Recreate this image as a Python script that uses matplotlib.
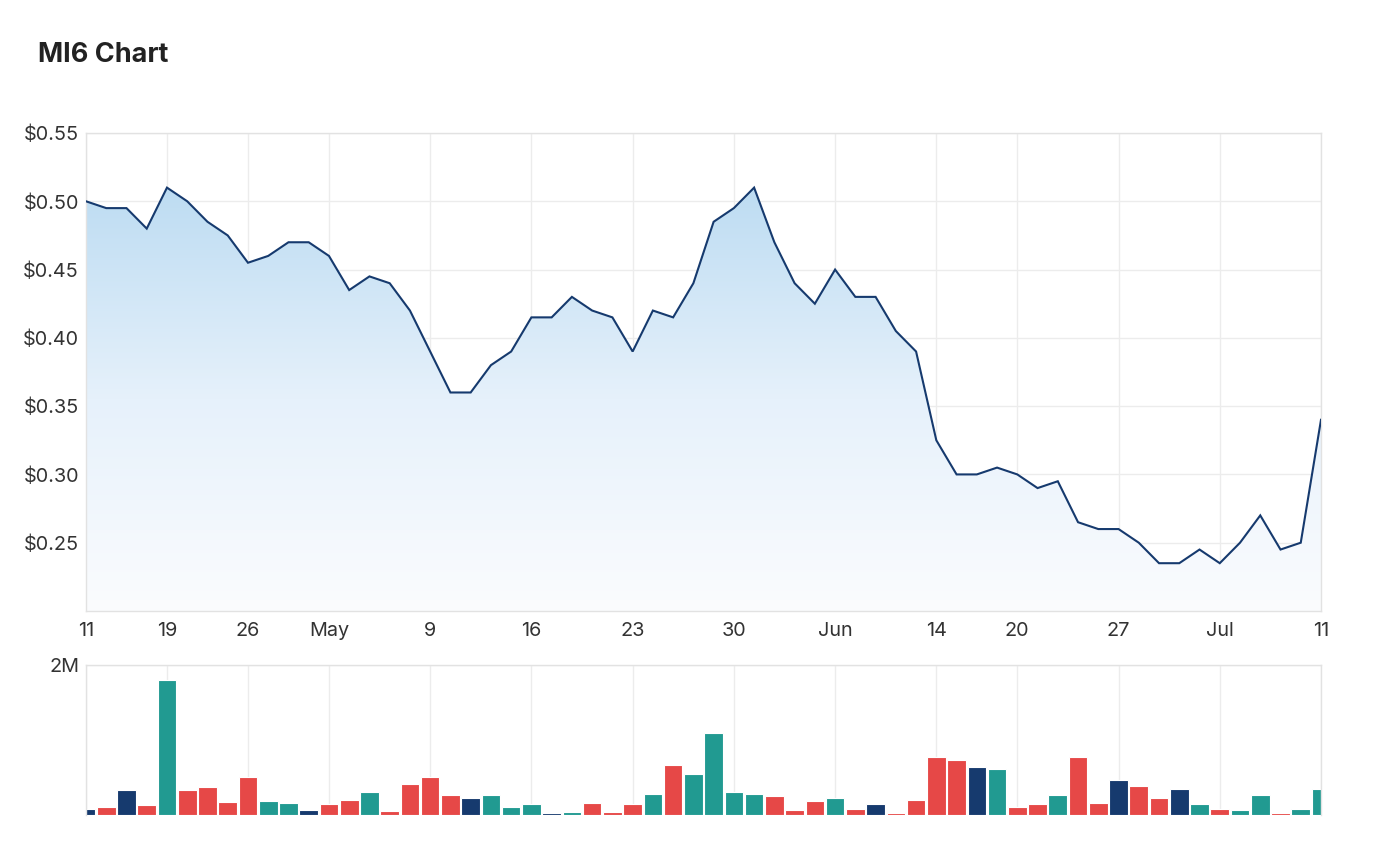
import numpy as np
import matplotlib
matplotlib.use("Agg")
import matplotlib.pyplot as plt
from matplotlib.colors import LinearSegmentedColormap
from matplotlib.patches import Polygon

# ---- data (ASX trading days, 11 Apr - 11 Jul) ----
dates = ["2022-04-11", "2022-04-12", "2022-04-13", "2022-04-14", "2022-04-19", "2022-04-20",
         "2022-04-21", "2022-04-22", "2022-04-26", "2022-04-27", "2022-04-28", "2022-04-29",
         "2022-05-02", "2022-05-03", "2022-05-04", "2022-05-05", "2022-05-06", "2022-05-09",
         "2022-05-10", "2022-05-11", "2022-05-12", "2022-05-13", "2022-05-16", "2022-05-17",
         "2022-05-18", "2022-05-19", "2022-05-20", "2022-05-23", "2022-05-24", "2022-05-25",
         "2022-05-26", "2022-05-27", "2022-05-30", "2022-05-31", "2022-06-01", "2022-06-02",
         "2022-06-03", "2022-06-06", "2022-06-07", "2022-06-08", "2022-06-09", "2022-06-10",
         "2022-06-14", "2022-06-15", "2022-06-16", "2022-06-17", "2022-06-20", "2022-06-21",
         "2022-06-22", "2022-06-23", "2022-06-24", "2022-06-27", "2022-06-28", "2022-06-29",
         "2022-06-30", "2022-07-01", "2022-07-04", "2022-07-05", "2022-07-06", "2022-07-07",
         "2022-07-08", "2022-07-11"]

prices = [0.500, 0.495, 0.495, 0.480, 0.510, 0.500, 0.485, 0.475, 0.455, 0.460,
          0.470, 0.470, 0.460, 0.435, 0.445, 0.440, 0.420, 0.390, 0.360, 0.360,
          0.380, 0.390, 0.415, 0.415, 0.430, 0.420, 0.415, 0.390, 0.420, 0.415,
          0.440, 0.485, 0.495, 0.510, 0.470, 0.440, 0.425, 0.450, 0.430, 0.430,
          0.405, 0.390, 0.325, 0.300, 0.300, 0.305, 0.300, 0.290, 0.295, 0.265,
          0.260, 0.260, 0.250, 0.235, 0.235, 0.245, 0.235, 0.250, 0.270, 0.245,
          0.250, 0.340]

volumes_m = [0.085, 0.112, 0.327, 0.130, 1.800, 0.327, 0.371, 0.170, 0.510, 0.188,
             0.166, 0.067, 0.148, 0.206, 0.309, 0.049, 0.412, 0.510, 0.268, 0.228,
             0.268, 0.107, 0.148, 0.027, 0.045, 0.166, 0.045, 0.148, 0.286, 0.671,
             0.550, 1.090, 0.309, 0.286, 0.250, 0.067, 0.188, 0.228, 0.085, 0.148,
             0.027, 0.206, 0.770, 0.734, 0.635, 0.613, 0.107, 0.148, 0.268, 0.770,
             0.166, 0.470, 0.389, 0.228, 0.349, 0.148, 0.085, 0.067, 0.268, 0.027,
             0.085, 0.349]

tick_idx = [0, 4, 8, 12, 17, 22, 27, 32, 37, 42, 46, 51, 56, 61]
tick_labels = ["11", "19", "26", "May", "9", "16", "23", "30", "Jun", "14", "20", "27", "Jul", "11"]
price_ticks = [0.25, 0.30, 0.35, 0.40, 0.45, 0.50, 0.55]

# ---- style ----
plt.rcParams['font.family'] = ['Inter', 'DejaVu Sans']
LINE = '#163a6e'
UP = '#219a91'
DOWN = '#e64847'
FLAT = '#163a6e'
GRID = '#ececec'
SPINE = '#e2e2e2'
TXT = '#333333'
FS = 14.3

W, H = 1397, 850
fig = plt.figure(figsize=(W / 100, H / 100), dpi=100)

def ax_rect(l, t, r, b):
    return [l / W, 1 - b / H, (r - l) / W, (b - t) / H]

x = np.arange(len(prices))
p = np.array(prices)

# ---- price panel ----
ax = fig.add_axes(ax_rect(86, 133, 1321, 611))
ymin, ymax = 0.20, 0.55
cmap = LinearSegmentedColormap.from_list('g', ['#fbfcfe', '#e6f1fb', '#bddcf2'])
grad = np.linspace(0, 1, 256).reshape(-1, 1)
im = ax.imshow(grad, extent=[x[0], x[-1], ymin, p.max()], origin='lower',
               aspect='auto', cmap=cmap, zorder=1, interpolation='bicubic')
verts = [(x[0], ymin)] + list(zip(x, p)) + [(x[-1], ymin)]
poly = Polygon(verts, closed=True, facecolor='none', edgecolor='none', transform=ax.transData)
ax.add_patch(poly)
im.set_clip_path(poly)
ax.plot(x, p, color=LINE, lw=1.5, zorder=3, solid_joinstyle='miter')

ax.set_xlim(x[0], x[-1])
ax.set_ylim(ymin, ymax)
ax.set_xticks(tick_idx)
ax.set_xticklabels(tick_labels)
ax.set_yticks(price_ticks)
ax.set_yticklabels([f"${v:.2f}" for v in price_ticks])
ax.tick_params(axis='both', length=0, labelsize=FS, colors=TXT)
ax.tick_params(axis='x', pad=8)
ax.tick_params(axis='y', pad=5)
ax.grid(True, color=GRID, lw=1, zorder=0)
ax.set_axisbelow(True)
for s in ax.spines.values():
    s.set_color(SPINE)
    s.set_linewidth(1)

# ---- volume panel ----
axv = fig.add_axes(ax_rect(86, 665, 1321, 815))
colors = [FLAT]
for i in range(1, len(p)):
    if p[i] > p[i - 1]:
        colors.append(UP)
    elif p[i] < p[i - 1]:
        colors.append(DOWN)
    else:
        colors.append(FLAT)
axv.bar(x, volumes_m, width=0.92, color=colors, edgecolor='white', linewidth=0.8, zorder=2)
axv.set_xlim(x[0], x[-1])
axv.set_ylim(0, 2)
axv.set_xticks(tick_idx)
axv.set_xticklabels([])
axv.set_yticks([2])
axv.set_yticklabels(["2M"])
axv.tick_params(axis='both', length=0, labelsize=FS, colors=TXT)
axv.tick_params(axis='y', pad=5)
axv.grid(True, color=GRID, lw=1, zorder=0)
axv.set_axisbelow(True)
for s in axv.spines.values():
    s.set_color(SPINE)
    s.set_linewidth(1)
axv.spines['bottom'].set_visible(False)

fig.text(38 / W, 1 - 55 / H, "MI6 Chart", fontsize=19.5, fontweight='bold',
         color='#222222', ha='left', va='center')

fig.savefig("out.png", dpi=100, facecolor='white')
